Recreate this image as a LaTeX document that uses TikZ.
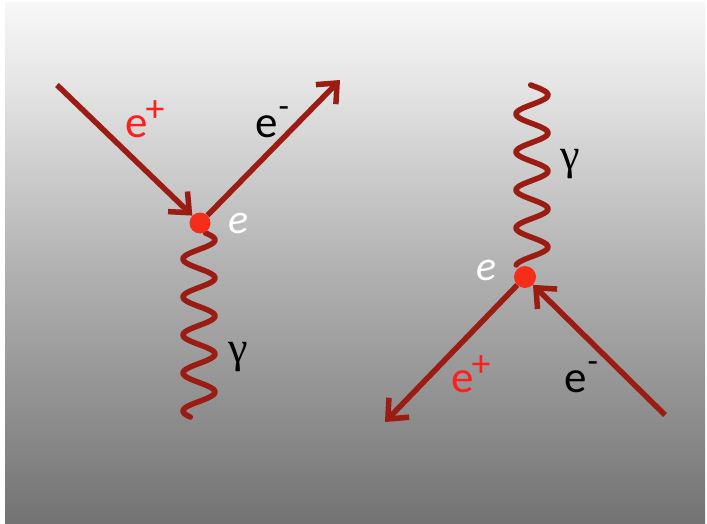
\documentclass[tikz,border=0pt]{standalone}
\usepackage{fontspec}
\setmainfont{Carlito}
\newfontfamily\gfont{Liberation Serif}
\usetikzlibrary{arrows.meta}
\definecolor{lineRed}{RGB}{155,28,18}
\definecolor{dotRed}{RGB}{245,45,25}
\definecolor{labRed}{RGB}{255,30,30}
\pgfdeclareverticalshading{bgshade}{100bp}{rgb(0bp)=(0.45,0.45,0.45); rgb(25bp)=(0.45,0.45,0.45); rgb(50bp)=(0.70,0.70,0.70); rgb(67.5bp)=(0.90,0.90,0.90); rgb(75bp)=(0.97,0.97,0.97); rgb(100bp)=(0.97,0.97,0.97)}
\newcommand\plussup{\kern-2pt\raisebox{16pt}{\fontsize{38}{38}\selectfont +}}
\newcommand\minussup{\kern1pt\raisebox{20pt}{\fontsize{34}{34}\selectfont -}}
\tikzset{
  vtx/.style={circle, fill=dotRed, minimum size=#1, inner sep=0pt},
  fermion/.style={draw=lineRed, line width=5.5pt, -{Straight Barb[length=16pt,width=28pt]}},
  photon/.style={draw=lineRed, line width=5.5pt, line cap=round, line join=round},
  lab/.style={inner sep=0pt, anchor=base west, font=\fontsize{45}{45}\selectfont},
  wlab/.style={inner sep=0pt, anchor=base west, text=white, font=\fontsize{42}{42}\selectfont\itshape},
  glab/.style={inner sep=0pt, anchor=base west, font=\fontsize{44}{44}\selectfont\gfont}
}
\begin{document}
\begin{tikzpicture}[x=1pt,y=-1pt]
\useasboundingbox (0,0) rectangle (707,524);
\fill[white] (0,0) rectangle (707,524);
\shade[shading=bgshade] (5,3) rectangle (705,524);

% left diagram
\draw[photon] plot[domain=233:417, samples=200] ({199+16*sin((\x-230.5)*9.47368)}, \x);
\node[vtx=21pt] (v1) at (200,223) {};
\coordinate (a1) at (57,85);
\coordinate (b1) at (340,80);
\draw[fermion] (a1) -- (v1);
\draw[fermion] (v1) -- (b1);
\node[lab, text=labRed] (l1) at (125,138) {e\plussup};
\node[lab] (l2) at (255,138) {e\minussup};
\node[wlab] (l3) at (228,233) {e};
\node[glab] (l4) at (228,362) {γ};

% right diagram
\draw[photon] plot[domain=85:265, samples=200] ({532+16*sin((\x-85.5)*9.47368)}, \x);
\node[vtx=22pt] (v2) at (525,277) {};
\coordinate (c2) at (385,422);
\coordinate (d2) at (665,415);
\draw[fermion] (v2) -- (c2);
\draw[fermion] (d2) -- (v2);
\node[lab, text=labRed] (l5) at (451,392) {e\plussup};
\node[lab] (l6) at (564,392) {e\minussup};
\node[wlab] (l7) at (476,280) {e};
\node[glab] (l8) at (560,169) {γ};
\end{tikzpicture}
\end{document}
